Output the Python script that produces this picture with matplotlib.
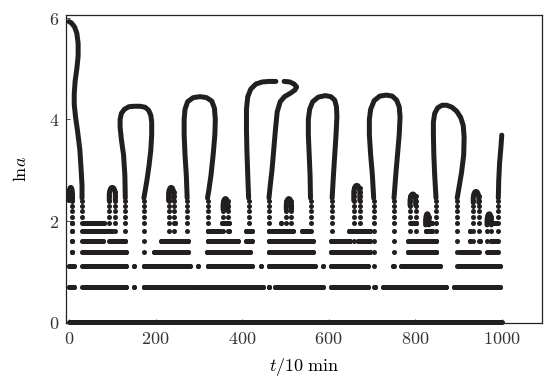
import matplotlib.pyplot as plt

plt.rcParams.update({
    "font.family": "serif",
    "mathtext.fontset": "cm",
    "font.size": 11,
})

INK = "#231f20"

# ln a for the integer sizes a = 2..16 (dot rows)
LEVELS = [0.69, 1.10, 1.39, 1.61, 1.79, 1.95, 2.08, 2.20, 2.30, 2.40,
          2.48, 2.56, 2.64, 2.71, 2.77]

# horizontal runs of dots on each level, (t_start, t_end)
ROWS = {
    0.69: [(1, 11), (34, 132), (150, 150), (173, 284), (292, 448), (462, 462),
           (476, 587), (606, 691), (707, 707), (725, 872), (889, 996)],
    1.10: [(1, 11), (34, 132), (149, 149), (173, 279), (297, 297), (320, 422),
           (443, 443), (461, 568), (587, 587), (606, 691), (748, 748), (768, 857),
           (902, 996)],
    1.39: [(6, 6), (34, 132), (196, 275), (319, 418), (461, 564), (606, 695),
           (783, 849), (903, 942), (968, 988)],
    1.61: [(6, 6), (34, 79), (97, 129), (213, 275), (321, 391), (409, 422),
           (461, 564), (606, 649), (667, 695), (783, 849), (926, 926), (949, 949),
           (976, 988)],
    1.79: [(6, 6), (34, 100), (321, 349), (369, 369), (409, 422), (461, 518),
           (538, 554), (648, 695), (824, 839), (926, 926)],
    1.95: [(6, 6), (34, 80), (245, 245), (353, 369), (490, 490), (790, 801),
           (824, 839), (970, 986)],
}

# vertical stacks of dots under each rising/falling branch: (t, highest ln a)
COLUMNS = [(7, 2.40), (30, 2.40), (93, 2.56), (107, 2.56), (130, 2.40), (173, 2.40),
           (230, 2.56), (242, 2.56), (273, 2.40), (320, 2.40), (356, 2.40), (367, 2.40),
           (415, 2.40), (462, 2.40), (502, 2.40), (514, 2.40), (558, 2.40), (608, 2.40),
           (658, 2.64), (672, 2.64), (704, 2.40), (751, 2.40), (788, 2.48), (801, 2.48),
           (824, 2.08), (832, 2.08), (848, 2.40), (897, 2.40), (934, 2.48), (947, 2.48),
           (966, 2.08), (976, 2.08), (992, 2.40)]

# bumps closing on top: (t_left, t_right, top ln a)
BUMPS = [(0, 8, 2.66), (93, 107, 2.66), (230, 242, 2.66), (356, 367, 2.44),
         (502, 514, 2.44), (658, 672, 2.70), (788, 801, 2.53), (824, 832, 2.14),
         (934, 947, 2.58), (966, 976, 2.14)]

# continuous branches of the large clusters
CURVE_T = [
    [0, 6, 13, 18, 21, 21, 18, 14, 12, 12, 15, 20, 25, 28, 30, 30],
    [130, 129, 126, 121, 118, 118, 121, 128, 138, 150, 164, 176, 184, 189, 191,
     191, 189, 185, 180, 176, 173],
    [273, 271, 268, 266, 266, 268, 274, 287, 303, 318, 330, 336, 338, 337, 333,
     328, 323, 320],
    [415, 413, 411, 410, 410, 413, 420, 432, 447, 463, 478],
    [497, 510, 520, 526, 522, 512, 498, 488, 481, 477, 473, 469, 465, 462],
    [558, 557, 555, 553, 553, 556, 563, 576, 592, 605, 614, 618, 619, 617, 614,
     611, 608],
    [704, 701, 697, 694, 694, 697, 705, 718, 733, 747, 757, 763, 765, 763, 759,
     755, 751],
    [848, 845, 843, 842, 842, 845, 852, 862, 873, 885, 896, 905, 911, 913, 912,
     907, 901, 897],
    [992, 993, 995, 998, 1000],
]
CURVE_LNA = [
    [5.93, 5.90, 5.82, 5.70, 5.50, 5.25, 5.00, 4.75, 4.50, 4.30, 4.05, 3.75, 3.40,
     3.00, 2.70, 2.45],
    [2.45, 2.90, 3.30, 3.60, 3.85, 4.00, 4.12, 4.20, 4.25, 4.26, 4.26, 4.24, 4.18,
     4.08, 3.95, 3.70, 3.40, 3.10, 2.80, 2.60, 2.45],
    [2.45, 2.90, 3.30, 3.70, 4.00, 4.20, 4.35, 4.43, 4.45, 4.43, 4.36, 4.22, 4.00,
     3.70, 3.30, 2.90, 2.60, 2.45],
    [2.45, 2.90, 3.40, 3.80, 4.20, 4.45, 4.60, 4.70, 4.74, 4.75, 4.75],
    [4.75, 4.74, 4.70, 4.64, 4.58, 4.52, 4.45, 4.35, 4.15, 3.80, 3.40, 3.00, 2.70,
     2.45],
    [2.45, 2.90, 3.30, 3.70, 4.00, 4.20, 4.35, 4.44, 4.47, 4.45, 4.38, 4.25, 4.05,
     3.70, 3.30, 2.90, 2.45],
    [2.45, 2.90, 3.30, 3.70, 4.00, 4.20, 4.37, 4.46, 4.48, 4.46, 4.38, 4.25, 4.05,
     3.70, 3.30, 2.90, 2.45],
    [2.45, 2.90, 3.30, 3.70, 3.95, 4.12, 4.23, 4.28, 4.28, 4.24, 4.16, 4.04, 3.88,
     3.65, 3.30, 2.95, 2.65, 2.45],
    [2.45, 2.80, 3.15, 3.45, 3.69],
]

fig = plt.figure(figsize=(5.46, 3.79), dpi=100)
ax = fig.add_axes([0.1209, 0.1478, 0.8718, 0.8126])

ms = 3.6
line_kw = dict(color=INK, lw=ms, solid_capstyle="round", solid_joinstyle="round")

for y, segs in ROWS.items():
    for x0, x1 in segs:
        ax.plot([x0, x1], [y, y], **line_kw)
        ax.plot([x0, x1], [y, y], "o", color=INK, ms=ms, mew=0)

for x, top in COLUMNS:
    ys = [v for v in LEVELS if v <= top + 1e-6]
    ax.plot([x] * len(ys), ys, "o", color=INK, ms=ms, mew=0)

# rounded cap of each bump, from its legs to its top
for xl, xr, top in BUMPS:
    w = xr - xl
    lo = min(top - 0.22, 2.40)
    bx = [xl, xl, xl + 0.12 * w, xl + 0.3 * w, xl + 0.5 * w,
          xr - 0.3 * w, xr - 0.12 * w, xr, xr]
    by = [lo, top - 0.12, top - 0.05, top - 0.01, top,
          top - 0.01, top - 0.05, top - 0.12, lo]
    ax.plot(bx, by, **line_kw)

for xs, ys in zip(CURVE_T, CURVE_LNA):
    ax.plot(xs, ys, **line_kw)

# a = 1 row along the bottom
ax.plot([0, 1000], [0, 0], color=INK, lw=ms, solid_capstyle="round", clip_on=False)

ax.set_xlim(-7, 1093)
ax.set_ylim(-0.015, 6.06)
xt = [0, 200, 400, 600, 800, 1000]
yt = [0, 2, 4, 6]
ax.set_xticks(xt)
ax.set_xticklabels([f"${v}$" for v in xt])
ax.set_yticks(yt)
ax.set_yticklabels([f"${v}$" for v in yt])
ax.tick_params(direction="in", length=3, width=0.6, labelsize=13, colors="#333333",
               top=False, right=False, pad=5)
for s in ax.spines.values():
    s.set_linewidth(0.9)
    s.set_color("#222222")
ax.set_xlabel(r"$t/10\ \mathrm{min}$", fontsize=13, labelpad=6)
ax.set_ylabel(r"$\mathrm{ln}a$", fontsize=13, labelpad=13)

fig.savefig("out.png", dpi=100)
